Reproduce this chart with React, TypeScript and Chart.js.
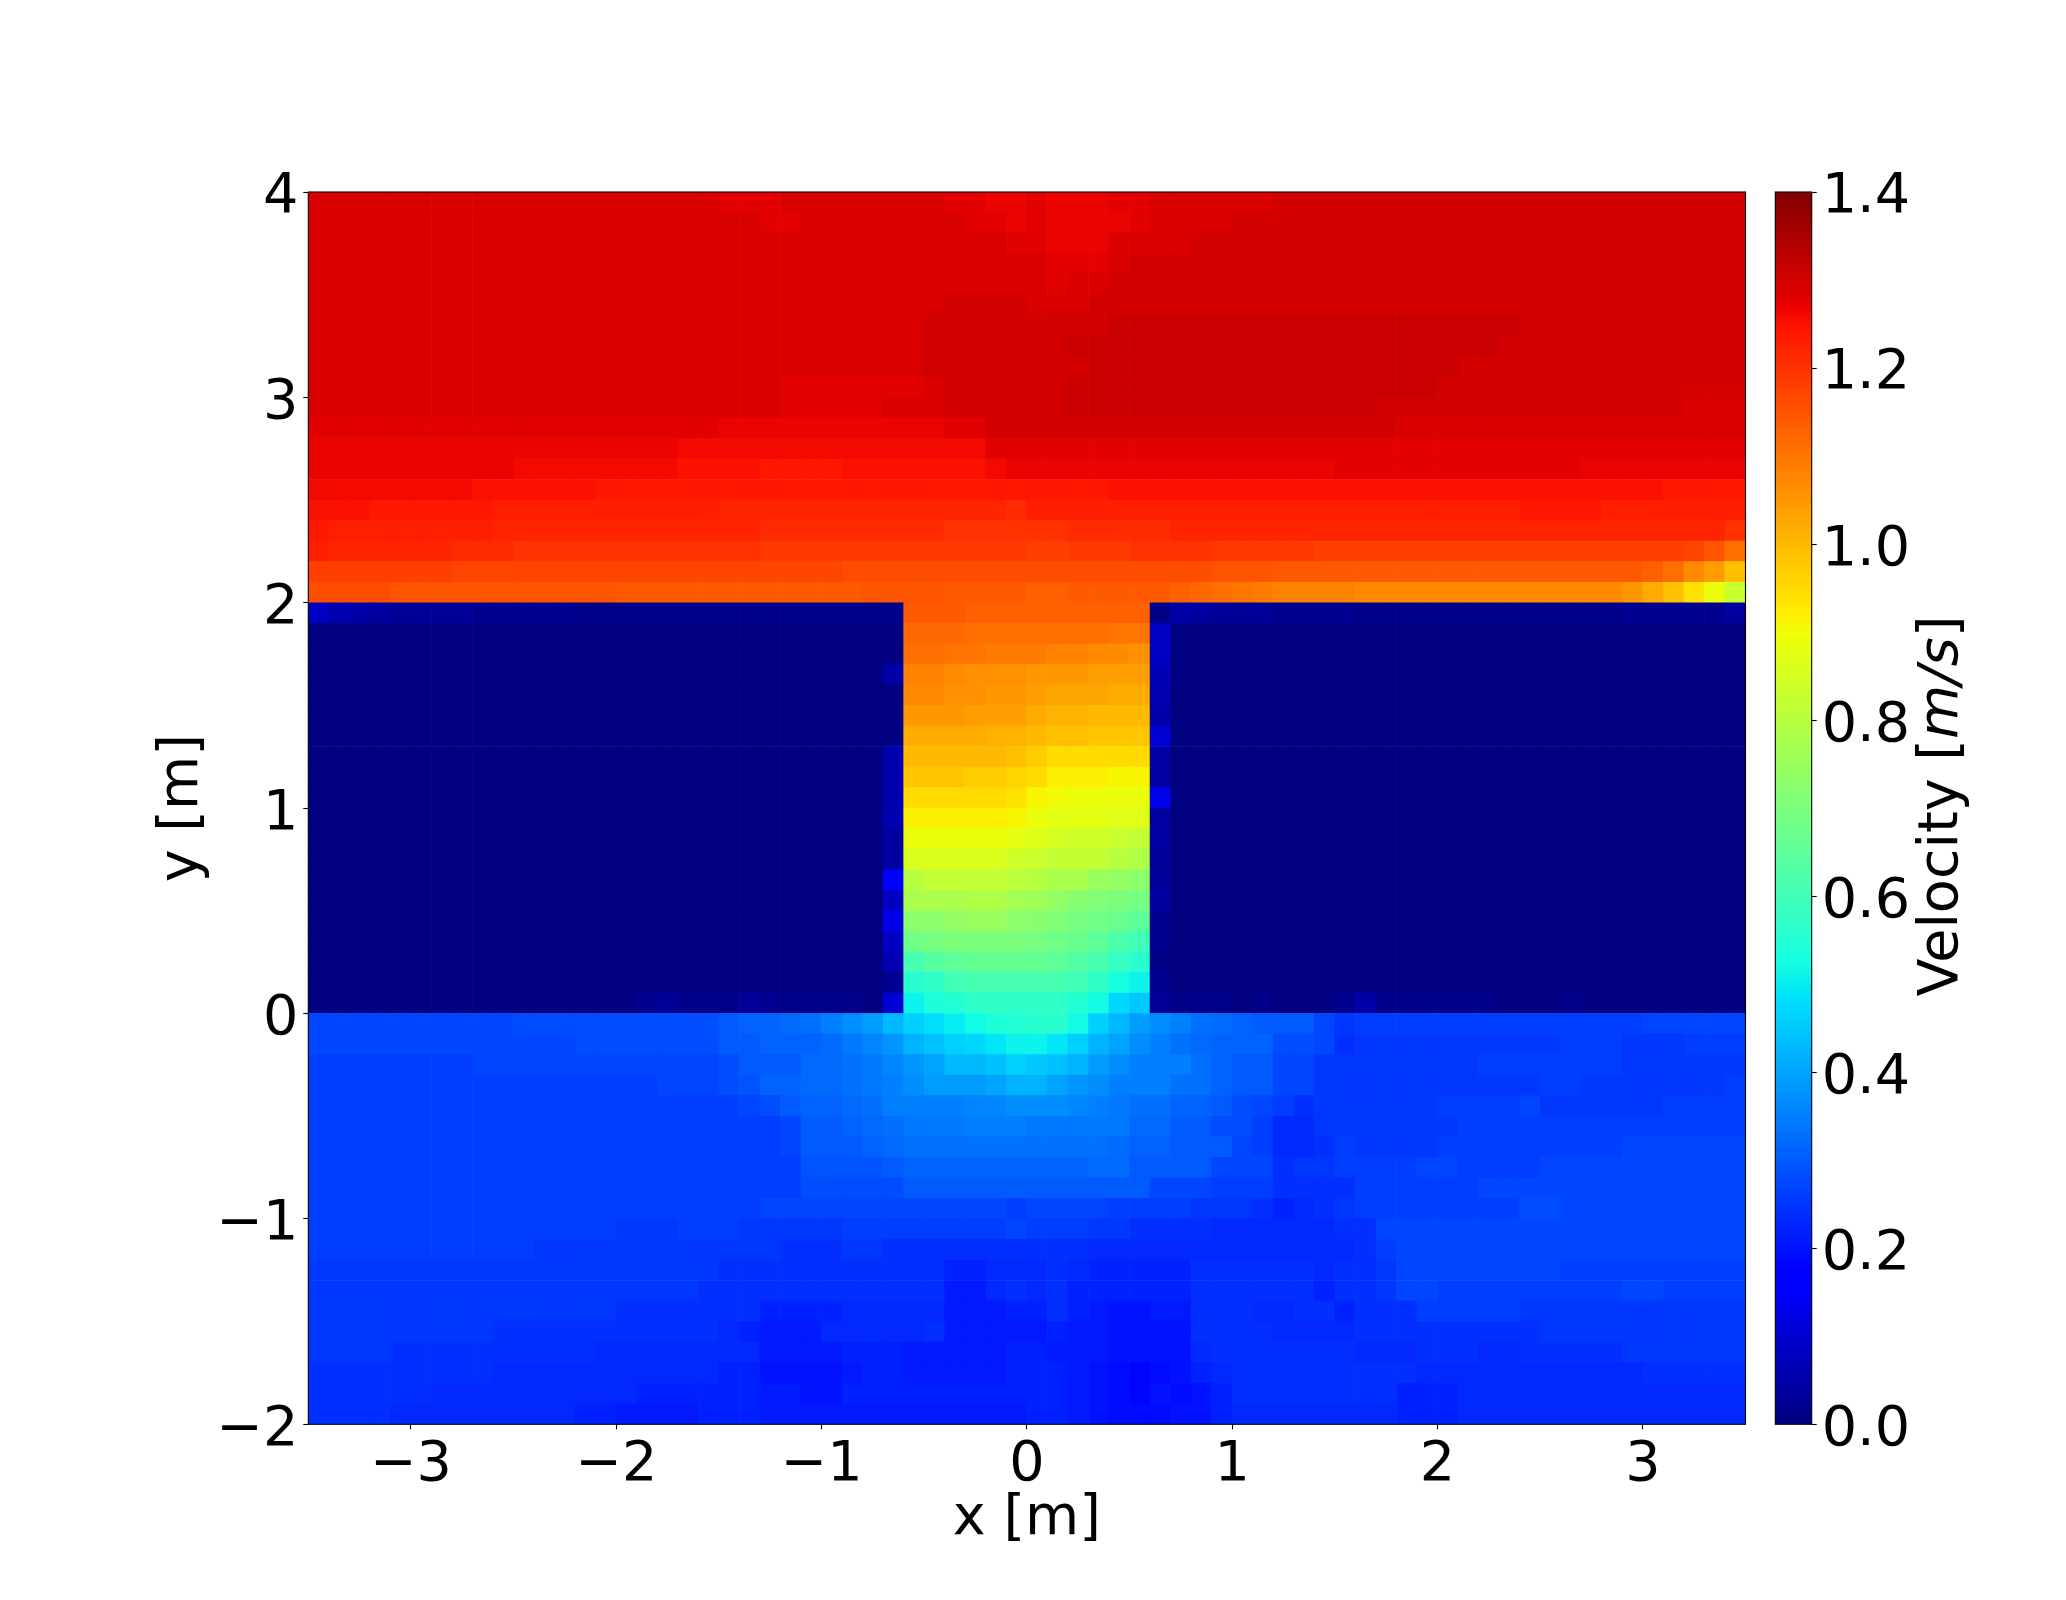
import React, { useEffect, useRef } from "react";
import { Chart, registerables } from "chart.js";

Chart.register(...registerables);

const FONT = '"DejaVu Sans"';
const FONT_SIZE = 55.6;
const V_MAX = 1.4;

const xTickValues = [-3, -2, -1, 0, 1, 2, 3];
const yTickValues = [-2, -1, 0, 1, 2, 3, 4];
const barTickValues = [0, 0.2, 0.4, 0.6, 0.8, 1.0, 1.2, 1.4];

// Speeds in cm/s, each row left to right, top row first. Rows above y = 2.
const upperRows = [
[129,129,129,129,129,129,129,129,129,129, 129,129,129,129,129,129,129,129,129,129, 128,128,128,129,129,129,129,129,129,129, 129,128,128,127,127,128,127,127,127,128, 128,129,129,129,129,129,129,130,130,130, 130,130,130,130,130,130,130,130,130,130, 130,130,130,130,130,130,130,130,130,130],
[129,129,129,129,129,129,129,129,129,129, 129,129,129,129,129,129,129,129,129,129, 129,129,128,128,129,129,129,129,129,129, 129,129,128,128,127,128,127,127,127,127, 128,129,129,129,129,130,130,130,130,130, 130,130,130,130,130,130,130,130,130,130, 130,130,130,130,130,130,130,130,130,130],
[129,129,129,129,129,129,129,129,129,129, 129,129,129,129,129,129,129,129,129,129, 129,129,129,129,129,129,129,129,129,129, 129,129,129,129,128,128,127,127,127,129, 129,129,129,130,130,130,130,130,130,130, 130,130,130,130,130,130,130,130,130,130, 130,130,130,130,130,130,130,130,130,130],
[129,129,129,129,129,129,129,129,129,129, 129,129,129,129,129,129,129,129,129,129, 129,129,129,129,129,129,129,129,129,129, 129,129,129,129,129,129,128,128,128,129, 130,130,130,130,130,130,130,130,130,130, 130,130,130,130,130,130,130,130,130,130, 130,130,130,130,130,130,130,130,130,130],
[129,129,129,129,129,129,129,129,129,129, 129,129,129,129,129,129,129,129,129,129, 129,129,129,129,129,129,129,129,129,129, 129,129,129,129,129,129,128,129,129,130, 130,130,130,130,130,130,130,130,130,130, 130,130,130,130,130,130,130,130,130,130, 130,130,130,130,130,130,130,130,130,130],
[129,129,129,129,129,129,129,129,129,129, 129,129,129,129,129,129,129,129,129,129, 129,129,129,129,129,129,129,129,129,129, 129,130,130,130,130,129,129,129,130,130, 130,130,130,130,130,130,130,130,130,130, 130,130,130,130,130,130,130,130,130,130, 130,130,130,130,130,130,130,130,130,130],
[129,129,129,129,129,129,129,129,129,129, 129,129,129,129,129,129,129,129,129,129, 129,129,129,129,129,129,129,129,129,129, 130,130,130,130,130,130,130,130,130,131, 131,131,131,131,131,131,131,131,131,131, 131,131,131,131,131,131,131,131,131,130, 130,130,130,130,130,130,130,130,130,130],
[129,129,129,129,129,129,129,129,129,129, 129,129,129,129,129,129,129,129,129,129, 129,129,129,129,129,129,129,129,129,129, 130,130,130,130,130,130,130,131,131,131, 131,131,131,131,131,131,131,131,131,131, 131,131,131,131,131,131,131,131,130,130, 130,130,130,130,130,130,130,130,130,130],
[129,129,129,129,129,129,129,129,129,129, 129,129,129,129,129,129,129,129,129,129, 129,129,129,129,129,129,129,129,129,129, 130,130,130,130,130,130,130,130,131,131, 131,131,131,131,131,131,131,131,131,131, 131,131,131,131,131,131,130,130,130,130, 130,130,130,130,130,130,130,130,130,130],
[129,129,129,129,129,129,129,129,129,129, 129,129,129,129,129,129,129,129,129,129, 129,129,129,128,128,128,128,128,128,128, 129,130,130,130,130,130,130,131,131,131, 131,131,131,131,131,131,131,131,131,131, 131,131,131,131,131,130,130,130,130,130, 130,130,130,130,130,130,130,130,130,130],
[129,129,129,129,129,129,129,129,129,129, 129,129,129,129,129,129,129,129,129,129, 129,129,129,128,128,128,128,128,129,129, 129,130,130,130,130,130,130,131,131,131, 131,131,131,131,131,131,131,131,131,131, 131,131,130,130,130,130,130,130,130,130, 130,130,130,130,130,130,130,129,129,129],
[128,128,128,128,128,128,128,128,128,128, 128,128,128,128,128,128,128,128,128,128, 127,127,127,127,127,127,127,127,127,127, 127,128,128,130,130,130,130,130,130,130, 130,130,130,130,130,130,130,130,130,130, 130,130,130,129,129,129,129,129,129,129, 129,129,129,129,129,129,129,129,129,129],
[127,127,127,127,127,127,127,127,127,127, 127,127,127,127,127,127,127,127,126,126, 126,126,126,126,126,126,126,126,126,126, 126,126,126,128,128,128,128,128,128,128, 128,128,128,128,128,128,128,128,128,128, 128,128,128,128,128,128,128,128,128,128, 128,128,128,128,128,128,128,128,128,128],
[127,127,127,127,127,127,127,127,127,127, 126,126,126,126,126,126,126,126,125,125, 125,125,124,124,124,124,125,125,125,125, 125,125,125,126,127,127,127,127,127,127, 127,127,127,127,127,127,127,127,127,127, 128,128,128,128,128,128,128,128,128,128, 128,128,127,127,127,127,127,127,127,127],
[126,126,126,126,126,126,126,126,125,125, 125,125,125,125,124,124,124,124,124,124, 124,124,124,124,124,124,124,124,124,124, 124,124,124,124,124,124,124,124,124,125, 125,125,125,125,125,125,125,125,125,125, 125,125,125,125,125,125,125,125,125,125, 125,125,125,125,125,125,124,124,124,124],
[125,125,125,124,124,124,124,124,124,123, 123,123,123,123,123,123,123,123,123,123, 122,122,122,122,122,122,122,122,122,122, 122,122,122,122,121,123,123,123,123,123, 123,123,123,123,123,123,123,123,123,123, 123,123,123,123,123,123,123,123,123,124, 124,124,124,123,123,123,123,123,123,123],
[124,123,123,123,123,123,123,123,123,122, 122,122,122,122,122,122,122,122,122,122, 122,122,121,121,121,121,121,121,121,121, 121,120,120,120,120,120,120,121,121,121, 121,121,122,122,122,122,122,122,122,122, 122,122,122,122,122,122,122,122,122,122, 122,122,122,122,122,122,122,122,122,120],
[123,122,122,122,122,122,122,121,121,121, 120,120,120,120,120,120,120,120,120,120, 120,120,119,119,119,119,119,119,119,119, 119,119,119,119,119,118,118,119,119,119, 120,120,120,120,119,119,119,119,119,118, 118,118,118,118,118,118,118,118,118,118, 118,118,118,118,118,118,118,117,115,111],
[118,118,118,118,118,118,118,117,117,117, 117,117,117,117,117,117,117,117,117,117, 117,117,117,117,117,117,116,116,116,116, 116,116,116,116,116,116,116,116,116,116, 116,116,116,116,115,115,115,114,114,114, 114,114,114,114,114,114,114,114,114,114, 114,114,114,114,114,113,111,107,104,99],
[116,116,116,116,115,115,115,115,115,115, 115,115,115,115,115,114,114,114,114,114, 114,114,114,114,114,114,114,115,115,115, 115,114,114,114,114,113,113,114,114,114, 114,114,113,112,111,110,109,108,108,108, 108,107,107,107,107,107,107,107,107,107, 107,107,107,107,105,102,99,94,89,83],
];

// Rows from y = 2 down to y = 0: still air left of the opening, the jet, still air right of it.
const still28 = [0,0,0,0,0,0,0,0,0,0,0,0,0,0,0,0,0,0,0,0,0,0,0,0,0,0,0,0];
const wallLeftFirst = [8,6,5,4,3,3,3,3,2,2,2,2,2,1,1,1,1,1,1,1,1,1,1,1,1,1,1,1,1];
const wallLeftLast = [0,0,0,0,0,0,0,0,0,0,0,0,0,0,0,0,2,3,1,1,1,3,2,1,1,1,1,0,10];
const wallLeftEdge = [0,0,5,0,0,0,6,6,6,6,4,4,15,8,13,8,6,2];
const jetRows = [
[114,114,114,113,113,113,113,113,113,113,113,113],
[112,112,112,111,111,111,111,111,111,111,110,110],
[111,111,110,110,109,109,109,108,108,107,107,106],
[108,108,107,106,106,106,105,105,105,104,104,104],
[107,107,106,106,105,105,104,103,103,103,102,102],
[105,105,105,104,104,104,102,101,101,100,100,100],
[102,102,102,102,101,101,100,99,99,98,98,98],
[100,100,100,100,100,99,97,95,95,95,95,95],
[98,98,98,97,97,96,95,92,92,92,91,91],
[95,95,95,95,95,94,91,90,89,89,89,89],
[92,92,92,92,92,91,89,88,88,88,87,87],
[89,89,89,89,89,88,87,85,84,84,83,82],
[86,86,86,86,86,84,83,82,82,82,80,79],
[80,82,82,82,82,81,80,78,78,75,74,73],
[78,78,78,79,79,77,76,74,72,71,70,69],
[73,73,74,75,75,73,72,71,69,68,67,65],
[68,69,70,70,70,70,69,68,67,65,62,60],
[61,64,65,66,66,66,66,65,63,61,58,56],
[56,57,60,61,61,61,61,61,60,57,53,51],
[51,54,55,57,57,57,57,57,55,52,47,45],
];
const wallRightFirst = [1,5,4,3,3,3,2,2,2,2,1,1,1,1,1,1,1,1,1,1,1,1,1,2,2,2,2,2,4];
const wallRightLast = [3,1,1,1,0,1,0,0,0,2,5,1,1,1,1,1,1,0,0,0,1,0,0,0,0,0,0,0,0];
const wallRightEdge = [8,8,7,6,5,10,5,4,13,4,4,3,3,4,2,2,1,2];

// Rows below y = 0.
const lowerRows = [
[27,27,27,27,27,27,27,27,27,27, 28,28,28,28,28,28,28,28,28,28, 30,31,31,32,33,35,37,39,43,46, 48,50,52,54,55,56,56,52,46,43, 39,37,35,33,32,31,30,30,30,27, 25,26,26,26,26,26,26,26,26,26, 26,26,26,26,26,27,27,27,27,27],
[27,27,27,27,27,27,27,27,27,27, 27,27,27,28,28,28,28,28,28,28, 30,30,31,31,31,32,34,36,38,42, 44,46,47,49,51,51,49,46,42,40, 37,35,33,32,31,31,31,28,28,27, 24,25,25,25,25,25,25,25,25,25, 25,26,26,26,25,25,25,26,26,26],
[26,26,26,26,26,26,26,26,27,27, 27,27,27,27,27,27,27,27,27,27, 28,30,30,30,32,32,33,34,36,38, 40,43,43,44,46,45,44,42,39,37, 35,35,35,33,31,30,30,27,27,25, 25,25,25,25,25,25,25,26,26,26, 26,26,26,26,25,25,25,25,25,25],
[26,26,26,26,26,26,26,26,26,26, 26,26,26,26,26,26,26,27,27,27, 28,29,31,31,32,32,33,34,35,37, 39,39,39,40,42,42,40,38,37,35, 35,35,33,33,31,30,30,27,27,25, 25,25,25,25,25,25,25,25,25,25, 26,26,25,25,25,25,25,25,25,26],
[26,26,26,26,26,26,26,26,26,26, 26,26,26,26,26,26,26,26,26,26, 26,27,28,30,31,31,32,33,35,35, 35,35,36,36,37,37,37,36,35,34, 33,33,31,31,30,28,27,26,24,25, 25,25,25,25,25,26,26,26,26,27, 25,25,25,25,25,25,26,26,26,26],
[26,26,26,26,26,26,26,26,26,26, 26,26,26,26,26,26,26,26,26,26, 26,26,26,27,30,30,31,32,33,34, 34,34,35,35,35,34,34,34,34,34, 32,32,30,30,28,28,26,23,23,25, 25,25,25,25,25,25,26,26,26,26, 26,26,26,26,26,26,26,26,26,26],
[26,26,26,26,26,26,26,26,26,26, 26,26,26,26,26,26,26,26,26,26, 26,26,26,27,30,30,30,31,32,33, 33,33,33,33,33,33,33,33,33,32, 31,31,30,30,30,27,26,23,23,24, 26,25,25,25,25,26,26,26,26,26, 26,26,26,26,27,27,27,27,27,27],
[26,26,26,26,26,26,26,26,26,26, 26,26,26,26,26,26,26,26,26,26, 26,26,26,26,29,29,29,29,30,31, 31,31,31,31,31,31,31,31,32,32, 30,30,30,30,27,27,27,24,25,25, 26,26,26,26,27,27,26,26,26,26, 27,27,27,27,27,27,27,27,27,27],
[26,26,26,26,26,26,26,26,26,26, 26,26,26,26,26,26,26,26,26,26, 26,26,26,26,28,28,28,28,28,30, 30,30,30,30,30,30,30,30,30,30, 30,27,27,27,26,26,26,24,24,24, 24,26,26,26,26,26,26,27,27,27, 27,27,27,27,27,27,27,27,27,27],
[26,26,26,26,26,26,26,26,26,26, 26,26,26,26,26,26,26,26,26,26, 26,26,27,27,27,27,27,27,27,27, 27,27,27,27,26,27,27,27,27,26, 26,26,26,25,25,25,24,22,23,24, 25,26,26,26,26,26,26,26,26,28, 28,27,27,27,27,27,27,27,27,27],
[26,26,26,26,26,26,26,26,26,26, 26,26,26,26,26,25,25,25,26,26, 26,25,25,25,25,25,26,26,26,26, 26,26,26,26,27,26,26,26,25,25, 24,24,24,24,23,23,23,23,23,23, 24,24,27,27,27,27,27,27,27,27, 27,27,27,27,27,27,27,27,27,27],
[26,26,26,26,26,26,26,26,26,26, 26,25,25,25,25,25,25,25,25,25, 25,25,25,24,24,24,25,25,24,24, 24,24,24,24,24,24,24,24,23,23, 23,23,23,23,23,23,23,23,23,23, 23,24,26,27,27,27,27,27,27,27, 27,27,27,27,27,27,27,27,27,27],
[25,25,25,25,25,25,25,25,25,25, 25,25,25,25,25,25,25,25,25,25, 24,24,24,24,24,24,24,24,24,24, 24,22,22,23,23,23,24,23,22,22, 22,22,22,24,24,24,24,24,24,23, 24,24,25,27,27,27,27,27,27,27, 27,26,26,26,26,26,26,26,26,26],
[25,25,25,25,25,25,25,25,25,25, 25,25,25,25,25,25,25,25,25,24, 24,24,24,24,24,24,24,24,24,24, 24,21,21,23,24,23,24,22,22,22, 22,22,22,24,24,24,24,24,24,22, 24,24,25,27,27,26,26,26,26,26, 26,26,26,26,27,27,26,26,26,26],
[25,25,25,25,25,25,25,25,25,25, 25,25,25,25,25,24,24,24,24,24, 24,24,22,22,22,22,23,23,23,23, 23,21,21,21,22,22,24,22,21,20, 20,21,21,24,24,24,23,23,24,24, 22,24,24,24,26,26,26,26,26,25, 25,25,25,25,25,25,25,25,25,25],
[25,25,25,25,25,25,25,25,25,24, 24,24,24,24,24,24,24,24,24,24, 23,22,21,21,21,23,23,23,23,23, 24,21,21,21,21,21,22,21,21,20, 20,20,20,24,24,24,24,23,23,23, 23,24,24,24,24,24,24,24,24,24, 25,25,25,25,25,25,25,25,25,25],
[25,25,25,25,24,24,24,24,24,24, 24,24,24,24,23,23,23,23,23,23, 23,23,21,21,21,21,22,22,22,21, 21,21,21,21,22,22,21,21,21,20, 20,20,20,23,24,24,24,24,24,24, 24,23,23,23,24,24,24,23,23,24, 24,24,24,24,25,25,25,25,25,25],
[24,24,24,24,24,24,24,24,24,23, 23,23,23,23,23,23,23,23,23,23, 22,22,20,20,20,20,21,22,22,21, 21,21,21,21,22,22,22,21,20,19, 18,19,20,22,23,24,24,24,24,24, 24,24,24,24,23,23,23,23,23,23, 23,23,23,23,23,24,24,24,24,24],
[24,24,24,24,24,24,23,23,23,23, 23,23,23,23,23,23,22,22,22,22, 22,22,21,21,20,20,22,22,22,22, 22,22,22,22,22,22,22,21,20,19, 18,20,19,20,22,24,24,24,24,24, 24,24,24,22,22,22,23,23,23,23, 23,23,23,23,23,23,23,23,23,23],
[24,24,24,24,23,23,23,23,23,23, 23,23,23,22,22,21,21,21,21,22, 22,22,21,21,21,21,21,21,21,21, 21,21,21,21,21,22,22,21,20,19, 19,19,20,20,22,23,23,23,23,23, 23,23,23,22,22,22,23,23,23,23, 23,23,23,23,23,23,23,23,23,23],
];

// Matplotlib's "jet" colour map, evaluated at a fraction of the colour range.
const JET_R: number[][] = [[0, 0], [0.35, 0], [0.66, 1], [0.89, 1], [1, 0.5]];
const JET_G: number[][] = [[0, 0], [0.125, 0], [0.375, 1], [0.64, 1], [0.91, 0], [1, 0]];
const JET_B: number[][] = [[0, 0.5], [0.11, 1], [0.34, 1], [0.65, 0], [1, 0]];
const JET_STOPS = [0, 0.11, 0.125, 0.34, 0.35, 0.375, 0.64, 0.65, 0.66, 0.89, 0.91, 1];

function channel(table: number[][], t: number) {
  for (let i = 1; i < table.length; i++) {
    if (t <= table[i][0]) {
      const [a, va] = table[i - 1];
      const [b, vb] = table[i];
      return Math.round(255 * (va + ((vb - va) * (t - a)) / (b - a)));
    }
  }
  return Math.round(255 * table[table.length - 1][1]);
}
function jet(t: number) {
  return `rgb(${channel(JET_R, t)},${channel(JET_G, t)},${channel(JET_B, t)})`;
}

function buildRows() {
  const duct = jetRows.map((core, i) => {
    let left: number[];
    let right: number[];
    if (i === 0) {
      left = wallLeftFirst;
      right = wallRightFirst;
    } else if (i === jetRows.length - 1) {
      left = wallLeftLast;
      right = wallRightLast;
    } else {
      left = [...still28, wallLeftEdge[i - 1]];
      right = [wallRightEdge[i - 1], ...still28];
    }
    return [...left, ...core, ...right];
  });
  return [...upperRows, ...duct, ...lowerRows];
}

function buildCells() {
  const cells: { x: number; y: number; v: number }[] = [];
  buildRows().forEach((row, r) => {
    row.forEach((value, c) => {
      cells.push({ x: -3.5 + (c + 0.5) * 0.1, y: 4 - (r + 0.5) * 0.1, v: value / 100 });
    });
  });
  return cells;
}

const frame = {
  id: "frame",
  afterDraw(chart: any) {
    const { ctx, chartArea: a } = chart;
    ctx.save();
    ctx.strokeStyle = "#000";
    ctx.lineWidth = 1.1;
    ctx.strokeRect(a.left, a.top, a.right - a.left, a.bottom - a.top);
    ctx.restore();
  },
};

const velocityLabel = {
  id: "velocityLabel",
  afterDraw(chart: any) {
    const { ctx } = chart;
    const parts = [
      { text: "Velocity [", font: `${FONT_SIZE}px ${FONT}` },
      { text: "m/s", font: `italic ${FONT_SIZE}px ${FONT}` },
      { text: "]", font: `${FONT_SIZE}px ${FONT}` },
    ];
    ctx.save();
    ctx.translate(1957, 806);
    ctx.rotate(-Math.PI / 2);
    ctx.fillStyle = "#000";
    ctx.textBaseline = "alphabetic";
    ctx.textAlign = "left";
    let total = 0;
    for (const p of parts) {
      ctx.font = p.font;
      total += ctx.measureText(p.text).width;
    }
    let at = -total / 2;
    for (const p of parts) {
      ctx.font = p.font;
      ctx.fillText(p.text, at, 0);
      at += ctx.measureText(p.text).width;
    }
    ctx.restore();
  },
};

const signed = (v: number) => String(v).replace("-", "\u2212");
const tickFont = { family: FONT, size: FONT_SIZE, lineHeight: 1 };
const tickGrid = { drawOnChartArea: false, drawTicks: true, tickLength: 5, tickWidth: 1.1, tickColor: "#000" };

export default function App() {
  const mapRef = useRef<HTMLCanvasElement>(null);
  const barRef = useRef<HTMLCanvasElement>(null);

  useEffect(() => {
    const cells = buildCells();
    const map = new Chart(mapRef.current as HTMLCanvasElement, {
      type: "scatter",
      data: {
        datasets: [
          {
            label: "Velocity",
            data: cells as any,
            pointStyle: "rect",
            pointRadius: 15,
            pointBorderWidth: 0,
            pointHoverRadius: 15,
            backgroundColor: cells.map((c) => jet(Math.min(1, c.v / V_MAX))),
          } as any,
        ],
      },
      options: {
        responsive: false,
        animation: false,
        events: [],
        layout: { padding: { left: 0, top: 192, right: 320.5, bottom: 0 } },
        plugins: { legend: { display: false }, tooltip: { enabled: false } },
        scales: {
          x: {
            type: "linear",
            min: -3.5,
            max: 3.5,
            afterBuildTicks: (s: any) => {
              s.ticks = xTickValues.map((value) => ({ value }));
            },
            afterFit: (s: any) => {
              s.height = 175.7;
            },
            border: { display: false },
            grid: tickGrid,
            ticks: { font: tickFont, color: "#000", padding: 8, maxRotation: 0, autoSkip: false, callback: (v: any) => signed(v) },
            title: { display: true, text: "x [m]", color: "#000", font: tickFont, padding: { top: 0, bottom: 53 } },
          },
          y: {
            type: "linear",
            min: -2,
            max: 4,
            afterBuildTicks: (s: any) => {
              s.ticks = yTickValues.map((value) => ({ value }));
            },
            afterFit: (s: any) => {
              s.width = 308.3;
            },
            border: { display: false },
            grid: tickGrid,
            ticks: { font: tickFont, color: "#000", padding: 5, labelOffset: 6, autoSkip: false, callback: (v: any) => signed(v) },
            title: { display: true, text: "y [m]", color: "#000", font: tickFont, padding: { top: 155, bottom: 0 } },
          },
        },
      } as any,
      plugins: [frame],
    });

    const bar = new Chart(barRef.current as HTMLCanvasElement, {
      type: "bar",
      data: {
        labels: ["Velocity"],
        datasets: [
          {
            label: "Velocity [m/s]",
            data: [[0, V_MAX]] as any,
            barPercentage: 1,
            categoryPercentage: 1,
            borderWidth: 0,
            backgroundColor: (c: any) => {
              const a = c.chart.chartArea;
              if (!a) return "#000";
              const g = c.chart.ctx.createLinearGradient(0, a.bottom, 0, a.top);
              JET_STOPS.forEach((t) => g.addColorStop(t, jet(t)));
              return g;
            },
          } as any,
        ],
      },
      options: {
        responsive: false,
        animation: false,
        events: [],
        layout: { padding: { left: 1775.3, top: 192, right: 0, bottom: 175.7 } },
        plugins: { legend: { display: false }, tooltip: { enabled: false } },
        scales: {
          x: { display: false },
          y: {
            position: "right",
            type: "linear",
            min: 0,
            max: V_MAX,
            afterBuildTicks: (s: any) => {
              s.ticks = barTickValues.map((value) => ({ value }));
            },
            afterFit: (s: any) => {
              s.width = 254.3;
            },
            border: { display: false },
            grid: tickGrid,
            ticks: { font: tickFont, color: "#000", padding: 5, labelOffset: 6, autoSkip: false, callback: (v: any) => Number(v).toFixed(1) },
          },
        },
      } as any,
      plugins: [frame, velocityLabel],
    });

    return () => {
      map.destroy();
      bar.destroy();
    };
  }, []);

  const layer: React.CSSProperties = { position: "absolute", left: 0, top: 0, display: "block" };
  return (
    <div style={{ position: "absolute", left: 0, top: 0, width: 2066, height: 1600, background: "#fff" }}>
      <canvas ref={mapRef} width={2066} height={1600} style={layer} />
      <canvas ref={barRef} width={2066} height={1600} style={layer} />
    </div>
  );
}
